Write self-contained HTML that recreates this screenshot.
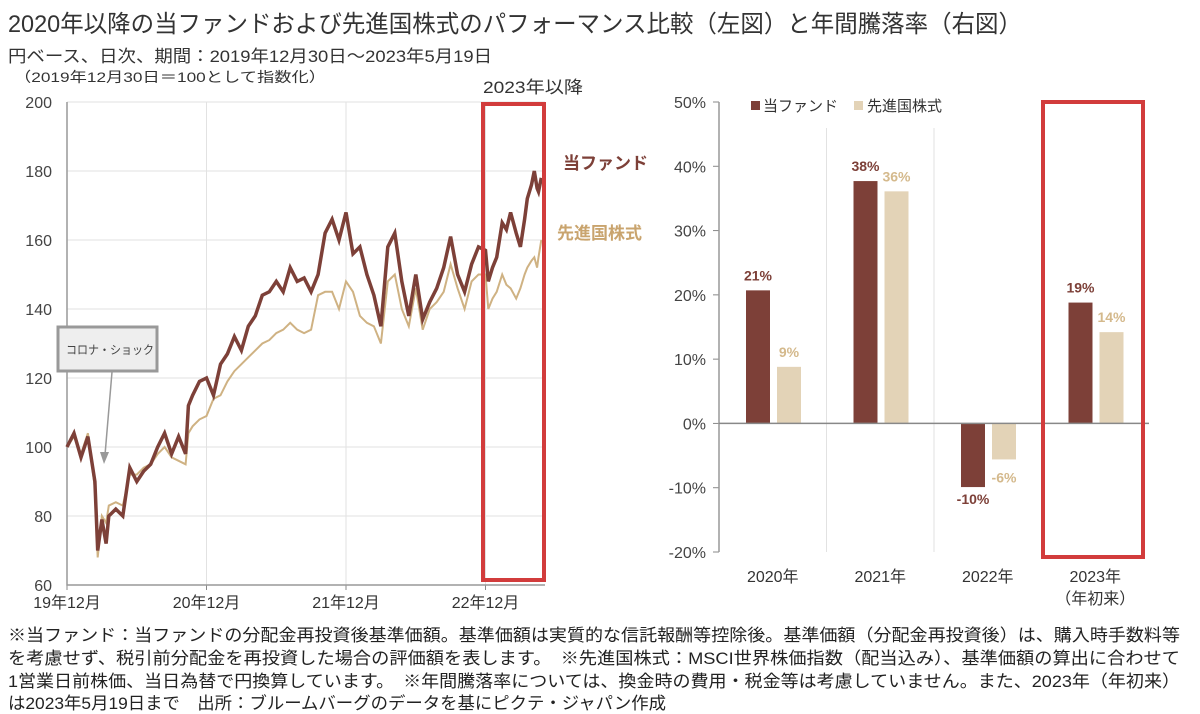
<!DOCTYPE html>
<html><head><meta charset="utf-8">
<style>
html,body{margin:0;padding:0;background:#fff;}
svg{display:block;font-family:"Liberation Sans","Noto Sans CJK JP",sans-serif;}
</style></head>
<body>
<svg id="chart" width="1200" height="714" viewBox="0 0 1200 714">
<text x="8" y="32" font-size="24" fill="#333" textLength="1014" lengthAdjust="spacingAndGlyphs">2020年以降の当ファンドおよび先進国株式のパフォーマンス比較（左図）と年間騰落率（右図）</text>
<text x="8" y="62" font-size="17" fill="#333" textLength="484" lengthAdjust="spacingAndGlyphs">円ベース、日次、期間：2019年12月30日～2023年5月19日</text>
<text x="14" y="82" font-size="14" fill="#333" textLength="312" lengthAdjust="spacingAndGlyphs">（2019年12月30日＝100として指数化）</text>
<text x="483" y="93" font-size="17" fill="#333" textLength="100" lengthAdjust="spacingAndGlyphs">2023年以降</text>
<g id="left"></g>
<g id="right"></g>
<g font-size="17" fill="#222">
<text x="8" y="641" textLength="1172" lengthAdjust="spacingAndGlyphs">※当ファンド：当ファンドの分配金再投資後基準価額。基準価額は実質的な信託報酬等控除後。基準価額（分配金再投資後）は、購入時手数料等</text>
<text x="8" y="664" textLength="1172" lengthAdjust="spacingAndGlyphs">を考慮せず、税引前分配金を再投資した場合の評価額を表します。　※先進国株式：MSCI世界株価指数（配当込み）、基準価額の算出に合わせて</text>
<text x="8" y="687" textLength="1172" lengthAdjust="spacingAndGlyphs">1営業日前株価、当日為替で円換算しています。　※年間騰落率については、換金時の費用・税金等は考慮していません。また、2023年（年初来）</text>
<text x="8" y="709" textLength="658" lengthAdjust="spacingAndGlyphs">は2023年5月19日まで　出所：ブルームバーグのデータを基にピクテ・ジャパン作成</text>
</g>
</svg>
<script>
// ---- line chart data ----
const lineTimes = [0,0.05,0.1,0.15,0.2,0.22,0.25,0.28,0.3,0.35,0.4,0.45,0.5,0.55,0.6,0.65,0.7,0.75,0.8,0.85,0.87,0.9,0.95,1.0,1.05,1.1,1.15,1.2,1.25,1.3,1.35,1.4,1.45,1.5,1.55,1.6,1.65,1.7,1.75,1.8,1.85,1.9,1.95,2.0,2.05,2.1,2.15,2.2,2.25,2.3,2.35,2.4,2.45,2.5,2.55,2.6,2.65,2.7,2.75,2.8,2.85,2.9,2.95,3.0,3.02,3.05,3.08,3.12,3.15,3.18,3.22,3.25,3.28,3.3,3.33,3.35,3.37,3.38,3.4];
const fundValues = [100,104,97,103,90,70,79,72,80,82,80,94,90,93,95,100,104,98,103,98,112,115,119,120,115,124,127,132,128,135,138,144,145,148,145,152,148,149,145,150,162,166,160,168,156,158,150,144,135,158,162,148,138,150,137,142,146,152,161,150,145,153,158,157,148,152,155,165,163,168,162,158,166,172,176,180,175,174,178];
const globalValues = [100,103,98,104,88,68,80,78,83,84,83,92,92,94,95,98,100,97,96,95,104,106,108,109,114,115,119,122,124,126,128,130,131,133,134,136,134,133,134,144,145,145,140,148,145,138,136,135,130,148,150,140,135,146,134,140,142,145,153,146,140,148,150,150,140,143,145,150,147,146,143,146,150,152,154,155,152,155,160];
const yTicks = [60,80,100,120,140,160,180,200];
const xTickLabels = ["19年12月","20年12月","21年12月","22年12月"];
const xTickTimes = [0,1,2,3];
// ---- bar chart data ----
const barCategories = ["2020年","2021年","2022年","2023年"];
const fundReturns = [20.7,37.7,-9.9,18.8];
const globalReturns = [8.8,36.1,-5.6,14.2];
const fundLabels = ["21%","38%","-10%","19%"];
const globalLabels = ["9%","36%","-6%","14%"];
const pctTicks = [-20,-10,0,10,20,30,40,50];

const NS="http://www.w3.org/2000/svg";
function mk(parent,tag,attrs,text){const e=document.createElementNS(NS,tag);for(const k in attrs)e.setAttribute(k,attrs[k]);if(text!==undefined)e.textContent=text;parent.appendChild(e);return e;}
const FUND="#7d4038";

// left chart
const L=document.getElementById('left');
const x0=67,xPerYear=139.5,yTop=102,yBot=585,vMin=60,vMax=200;
const xs=t=>x0+t*xPerYear;
const ys=v=>yBot-(v-vMin)/(vMax-vMin)*(yBot-yTop);
yTicks.forEach(v=>{
  let g=mk(L,'line',{x1:x0,x2:545,y1:ys(v),y2:ys(v),stroke:'#e2e2e2','stroke-width':1});
  
  
  let t=mk(L,'text',{x:52,y:ys(v)+6,'font-size':16,fill:'#444','text-anchor':'end'},String(v));
  
  
});
xTickTimes.forEach((tt,i)=>{
  if(i>0){let g=mk(L,'line',{x1:xs(tt),x2:xs(tt),y1:yTop,y2:yBot,stroke:'#e2e2e2','stroke-width':1});
  
  }
  let k=mk(L,'line',{x1:xs(tt),x2:xs(tt),y1:yBot,y2:yBot+5,stroke:'#888'});
  
  
  let t=mk(L,'text',{x:xs(tt),y:608,'font-size':16,fill:'#333','text-anchor':'middle'},xTickLabels[i]);
  
  
});
let ax=mk(L,'path',{d:`M${x0},${yTop}V${yBot}H545`,stroke:'#999',fill:'none','stroke-width':1.5});


function linePath(vals){return vals.map((v,i)=>(i?'L':'M')+xs(lineTimes[i]).toFixed(1)+','+ys(v).toFixed(1)).join('');}
let gl=mk(L,'path',{d:linePath(globalValues),stroke:'#cfb283',fill:'none','stroke-width':2});


let fl=mk(L,'path',{d:linePath(fundValues),stroke:FUND,fill:'none','stroke-width':3.5});


let rb=mk(L,'rect',{x:483,y:104,width:61,height:476,fill:'none',stroke:'#d23c3c','stroke-width':4});


let l1=mk(L,'text',{x:563,y:169,'font-size':17,'font-weight':'bold',fill:FUND},'当ファンド');


let l2=mk(L,'text',{x:557,y:239,'font-size':17,'font-weight':'bold',fill:'#c9a46e'},'先進国株式');


let cb=mk(L,'rect',{x:58,y:327,width:99,height:44,fill:'#eeeeee',stroke:'#999','stroke-width':3});


let ct=mk(L,'text',{x:66,y:354,'font-size':12,fill:'#444',textLength:88,lengthAdjust:'spacingAndGlyphs'},'コロナ・ショック');


let ar=mk(L,'path',{d:'M112,372L105,455',stroke:'#999','stroke-width':1.5,fill:'none'});


let ah=mk(L,'path',{d:'M100,452L104,464L109,452Z',fill:'#999'});



// right chart
const R=document.getElementById('right');
const bx0=719,catW=107.5,bTop=102,bBot=552,pMin=-20,pMax=50;
const py=p=>bBot-(p-pMin)/(pMax-pMin)*(bBot-bTop);
pctTicks.forEach(p=>{
  let t=mk(R,'text',{x:706,y:py(p)+6,'font-size':16,fill:'#444','text-anchor':'end'},p+'%');
  
  
  let k=mk(R,'line',{x1:bx0-6,x2:bx0,y1:py(p),y2:py(p),stroke:'#888'});
  
  
});
for(let i=1;i<barCategories.length;i++){
  let s=mk(R,'line',{x1:bx0+i*catW,x2:bx0+i*catW,y1:128,y2:bBot,stroke:'#e2e2e2'});
  
  
}
let rax=mk(R,'line',{x1:bx0,x2:bx0,y1:bTop,y2:bBot,stroke:'#999','stroke-width':1.5});


barCategories.forEach((c,i)=>{
  const cx=bx0+i*catW;
  const f=fundReturns[i], g=globalReturns[i];
  let b1=mk(R,'rect',{x:cx+27,y:Math.min(py(f),py(0)),width:24,height:Math.abs(py(f)-py(0)),fill:FUND});
  
  
  let b2=mk(R,'rect',{x:cx+58,y:Math.min(py(g),py(0)),width:24,height:Math.abs(py(g)-py(0)),fill:'#e3d3b7'});
  
  
  let t1=mk(R,'text',{x:cx+39,y:f>=0?py(f)-10:py(f)+17,'font-size':14,'font-weight':'bold',fill:FUND,'text-anchor':'middle'},fundLabels[i]);
  
  
  let t2=mk(R,'text',{x:cx+70,y:g>=0?py(g)-10:py(g)+23,'font-size':14,'font-weight':'bold',fill:'#d4b98c','text-anchor':'middle'},globalLabels[i]);
  
  
  let cl=mk(R,'text',{x:cx+catW/2,y:582,'font-size':16,fill:'#333','text-anchor':'middle'},c);
  
  
});
let sub=mk(R,'text',{x:bx0+3.5*catW,y:604,'font-size':16,fill:'#333','text-anchor':'middle'},'（年初来）');


let zl=mk(R,'line',{x1:bx0,x2:bx0+4*catW,y1:py(0),y2:py(0),stroke:'#888','stroke-width':1.5});


let rb2=mk(R,'rect',{x:1043,y:102,width:100,height:455,fill:'none',stroke:'#d23c3c','stroke-width':4});


let lg1=mk(R,'rect',{x:751,y:101,width:9,height:9,fill:FUND});


let lt1=mk(R,'text',{x:763,y:111,'font-size':15,fill:'#333'},'当ファンド');


let lg2=mk(R,'rect',{x:854,y:101,width:9,height:9,fill:'#e3d3b7'});


let lt2=mk(R,'text',{x:867,y:111,'font-size':15,fill:'#333'},'先進国株式');


</script>
</body></html>
